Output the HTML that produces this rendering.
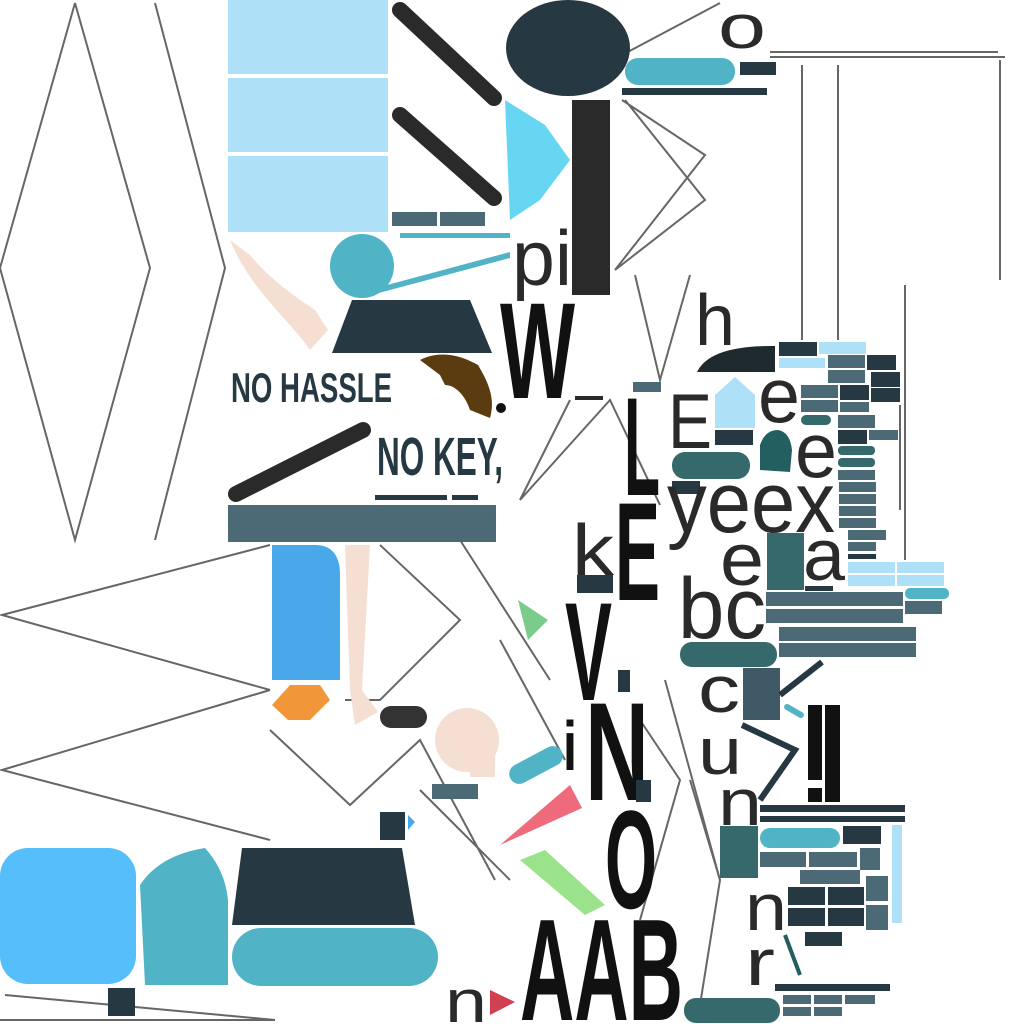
<!DOCTYPE html>
<html><head><meta charset="utf-8"><style>
html,body{margin:0;padding:0;background:#fff;width:1024px;height:1024px;overflow:hidden}
svg{display:block}
text{font-family:"Liberation Sans",sans-serif;fill:#2a2a2a}
.n{font-weight:bold;fill:#111}
</style></head><body>
<svg width="1024" height="1024" viewBox="0 0 1024 1024">
<g stroke="#666" stroke-width="2" fill="none">
<polyline points="75,3 0,268 75,540 150,268 75,3"/>
<polyline points="155,3 225,268 155,540"/>
<polyline points="2,615 270,545 2,615 270,690"/>
<polyline points="2,770 270,690 2,770 270,840"/>
<polyline points="5,995 275,1020"/><line x1="0" y1="1020" x2="275" y2="1020"/>
<polyline points="720,3 622,55"/><polyline points="622,100 705,155 615,270 705,200 625,100"/>
<line x1="770" y1="52" x2="998" y2="52"/><line x1="770" y1="57" x2="1005" y2="57"/>
<line x1="802" y1="65" x2="802" y2="340"/><line x1="838" y1="65" x2="838" y2="340"/><line x1="1000" y1="60" x2="1000" y2="280"/>
<line x1="905" y1="285" x2="905" y2="560"/><line x1="900" y1="405" x2="900" y2="510"/>
<polyline points="635,275 660,380 690,275"/><polyline points="570,400 520,500 610,400 660,505"/>
<polyline points="380,545 460,620 380,700 345,700"/><polyline points="460,540 550,680"/>
<polyline points="270,730 350,805 420,740 495,880"/><polyline points="500,640 565,760"/>
<polyline points="665,680 720,880 700,1005"/><polyline points="690,780 720,880"/>
<polyline points="640,720 680,780 640,920"/><line x1="510" y1="880" x2="420" y2="790"/>
</g>
<g fill="#aee0f8">
<rect x="228" y="0" width="160" height="74"/><rect x="228" y="78" width="160" height="74"/><rect x="228" y="156" width="160" height="76"/>
</g>
<rect x="392" y="212" width="45" height="14" fill="#4b6a75"/><rect x="440" y="212" width="45" height="14" fill="#4b6a75"/>
<g stroke="#2a2a2a" stroke-width="16" stroke-linecap="round">
<line x1="400" y1="10" x2="494" y2="98"/><line x1="400" y1="115" x2="494" y2="198"/><line x1="236" y1="494" x2="363" y2="430"/>
</g>
<ellipse cx="568" cy="48" rx="62" ry="48" fill="#263841"/>
<rect x="572" y="100" width="38" height="195" fill="#2a2a2a"/>
<polygon points="505,100 545,125 570,160 540,200 510,220" fill="#66d6f2"/>
<rect x="625" y="58" width="110" height="27" rx="13" fill="#50b4c6"/>
<rect x="740" y="62" width="36" height="13" fill="#263841"/><rect x="622" y="88" width="145" height="7" fill="#263841"/>
<text x="718" y="48" font-size="62" textLength="48" lengthAdjust="spacingAndGlyphs">o</text>
<text x="512" y="285" font-size="78" textLength="60" lengthAdjust="spacingAndGlyphs">pi</text>
<path d="M230,240 C250,290 290,320 310,350 L328,330 L315,310 C300,300 270,280 250,255 Z" fill="#f5dfd3"/>
<circle cx="362" cy="266" r="32" fill="#50b4c6"/>
<polygon points="350,295 510,252 510,258 360,298" fill="#50b4c6"/><rect x="400" y="233" width="110" height="5" fill="#50b4c6"/>
<polygon points="352,300 470,300 492,353 332,353" fill="#263841"/>
<text x="500" y="398" font-size="137" class="n" textLength="75" lengthAdjust="spacingAndGlyphs">W</text>
<circle cx="501" cy="408" r="5" fill="#111"/>
<rect x="575" y="396" width="28" height="4" fill="#2a2a2a"/>
<path d="M420,360 C440,350 460,355 478,365 C490,385 495,400 490,418 L470,410 C465,395 455,385 445,385 L440,375 Z" fill="#5a3c10"/>
<text x="231" y="402" font-size="42" font-weight="bold" style="fill:#263841" textLength="161" lengthAdjust="spacingAndGlyphs">NO HASSLE</text>
<text x="377" y="475" font-size="54" font-weight="bold" style="fill:#263841" textLength="126" lengthAdjust="spacingAndGlyphs">NO KEY,</text>
<rect x="375" y="495" width="72" height="5" fill="#263841"/><rect x="452" y="495" width="26" height="5" fill="#263841"/>
<rect x="228" y="505" width="268" height="37" fill="#4b6a75"/>
<path d="M272,545 L315,545 Q340,545 340,575 L340,680 L272,680 Z" fill="#48a8ea"/>
<path d="M345,545 L370,545 L362,690 L378,712 L355,725 L350,690 Z" fill="#f5dfd3"/>
<polygon points="272,705 290,685 320,685 330,700 310,720 288,720" fill="#f29739"/>
<rect x="380" y="706" width="47" height="22" rx="11" fill="#333"/>
<circle cx="467" cy="740" r="32" fill="#f5dfd3"/><rect x="470" y="755" width="25" height="22" fill="#f5dfd3"/>
<rect x="432" y="784" width="46" height="15" fill="#4b6a75"/>
<rect x="507" y="755" width="58" height="20" rx="10" fill="#50b4c6" transform="rotate(-28 536 765)"/>
<polygon points="518,600 548,620 528,640" fill="#7acc8a"/>
<polygon points="500,845 570,785 582,808" fill="#ef6a7a"/>
<polygon points="520,860 545,850 605,905 585,915" fill="#9be38a"/>
<rect x="380" y="812" width="25" height="28" fill="#263841"/><polygon points="408,815 415,822 408,830" fill="#48a8ea"/>
<rect x="0" y="848" width="136" height="136" rx="28" fill="#56befa"/>
<path d="M140,885 Q160,855 205,848 Q225,870 228,900 L228,985 L145,985 Z" fill="#50b4c6"/>
<rect x="108" y="988" width="27" height="28" fill="#263841"/>
<polygon points="242,848 402,848 415,925 232,925" fill="#263841"/>
<rect x="232" y="928" width="206" height="58" rx="29" fill="#50b4c6"/>
<g>
<text x="624" y="495" font-size="140" class="n" textLength="36" lengthAdjust="spacingAndGlyphs">L</text>
<text x="615" y="600" font-size="140" class="n" textLength="45" lengthAdjust="spacingAndGlyphs">E</text>
<text x="565" y="700" font-size="140" class="n" textLength="47" lengthAdjust="spacingAndGlyphs">V</text>
<text x="585" y="800" font-size="140" class="n" textLength="64" lengthAdjust="spacingAndGlyphs">N</text>
<text x="563" y="770" font-size="70" class="n" textLength="14" lengthAdjust="spacingAndGlyphs">i</text>
<text x="605" y="908" font-size="140" class="n" textLength="52" lengthAdjust="spacingAndGlyphs">O</text>
<text x="520" y="1020" font-size="145" class="n" textLength="163" lengthAdjust="spacingAndGlyphs">AAB</text>
</g>
<text x="445" y="1022" font-size="60" textLength="42" lengthAdjust="spacingAndGlyphs">n</text><polygon points="490,990 515,1002 490,1015" fill="#d04050"/>
<text x="572" y="575" font-size="72" textLength="42" lengthAdjust="spacingAndGlyphs">k</text><rect x="577" y="575" width="36" height="18" fill="#263841"/>
<rect x="618" y="670" width="12" height="22" fill="#263841"/><rect x="636" y="780" width="15" height="22" fill="#263841"/>
<text x="695" y="345" font-size="72" textLength="40" lengthAdjust="spacingAndGlyphs">h</text>
<path d="M697,372 Q710,345 775,346 L775,372 Z" fill="#1e2a2e"/>
<rect x="633" y="382" width="28" height="10" fill="#4b6a75"/>
<text x="668" y="448" font-size="78" textLength="44" lengthAdjust="spacingAndGlyphs">E</text>
<polygon points="715,395 735,377 755,395 755,428 715,428" fill="#aee0f8"/><rect x="715" y="430" width="38" height="15" fill="#263841"/>
<text x="758" y="422" font-size="78" textLength="42" lengthAdjust="spacingAndGlyphs">e</text>
<path d="M760,470 L760,445 Q765,430 778,430 Q790,432 792,450 L790,472 Z" fill="#235e60"/>
<text x="795" y="477" font-size="78" textLength="42" lengthAdjust="spacingAndGlyphs">e</text>
<rect x="672" y="452" width="78" height="27" rx="13" fill="#35696b"/>
<rect x="672" y="481" width="28" height="13" fill="#263841"/>
<text x="667" y="532" font-size="86" textLength="168" lengthAdjust="spacingAndGlyphs">yeex</text>
<text x="720" y="585" font-size="74" textLength="44" lengthAdjust="spacingAndGlyphs">e</text>
<rect x="767" y="533" width="37" height="57" fill="#35696b"/>
<text x="803" y="580" font-size="72" textLength="42" lengthAdjust="spacingAndGlyphs">a</text>
<text x="678" y="638" font-size="86" textLength="88" lengthAdjust="spacingAndGlyphs">bc</text>
<rect x="680" y="642" width="97" height="25" rx="12" fill="#35696b"/>
<text x="698" y="712" font-size="66" textLength="42" lengthAdjust="spacingAndGlyphs">c</text><rect x="743" y="668" width="37" height="52" fill="#3f5a66"/>
<line x1="780" y1="695" x2="822" y2="662" stroke="#263841" stroke-width="6"/>
<rect x="783" y="708" width="22" height="6" rx="3" fill="#50b4c6" transform="rotate(30 794 711)"/>
<text x="698" y="774" font-size="66" textLength="44" lengthAdjust="spacingAndGlyphs">u</text>
<polyline points="742,725 795,750 760,800" stroke="#263841" stroke-width="6" fill="none"/>
<text x="718" y="825" font-size="66" textLength="44" lengthAdjust="spacingAndGlyphs">n</text>
<rect x="808" y="705" width="14" height="75" fill="#111"/><rect x="808" y="788" width="14" height="14" fill="#111"/><rect x="825" y="705" width="15" height="97" fill="#111"/>
<rect x="760" y="805" width="145" height="7" fill="#263841"/><rect x="760" y="816" width="145" height="6" fill="#263841"/>
<rect x="720" y="826" width="38" height="52" fill="#35696b"/>
<rect x="760" y="828" width="80" height="20" rx="10" fill="#50b4c6"/>
<rect x="843" y="826" width="38" height="18" fill="#263841"/>
<rect x="760" y="852" width="46" height="15" fill="#4b6a75"/><rect x="809" y="852" width="48" height="15" fill="#4b6a75"/><rect x="860" y="848" width="20" height="22" fill="#4b6a75"/>
<rect x="892" y="825" width="10" height="98" fill="#aee0f8"/>
<text x="745" y="930" font-size="66" textLength="42" lengthAdjust="spacingAndGlyphs">n</text><text x="745" y="985" font-size="66" textLength="30" lengthAdjust="spacingAndGlyphs">r</text>
<line x1="785" y1="935" x2="800" y2="975" stroke="#235e60" stroke-width="4"/>
<rect x="800" y="870" width="60" height="14" fill="#4b6a75"/>
<rect x="788" y="887" width="37" height="18" fill="#263841"/><rect x="828" y="887" width="36" height="18" fill="#263841"/><rect x="866" y="876" width="22" height="25" fill="#4b6a75"/>
<rect x="788" y="908" width="37" height="18" fill="#263841"/><rect x="828" y="908" width="36" height="18" fill="#263841"/><rect x="866" y="905" width="22" height="25" fill="#4b6a75"/>
<rect x="805" y="932" width="37" height="14" fill="#263841"/>
<rect x="775" y="984" width="115" height="7" fill="#263841"/>
<rect x="684" y="998" width="96" height="25" rx="12" fill="#35696b"/>
<rect x="783" y="995" width="28" height="9" fill="#4b6a75"/><rect x="814" y="995" width="28" height="9" fill="#4b6a75"/><rect x="845" y="995" width="30" height="9" fill="#4b6a75"/>
<rect x="783" y="1007" width="28" height="9" fill="#4b6a75"/><rect x="814" y="1007" width="28" height="9" fill="#4b6a75"/>
<g>
<rect x="779" y="342" width="38" height="14" fill="#263841"/><rect x="819" y="342" width="47" height="12" fill="#aee0f8"/>
<rect x="779" y="358" width="46" height="10" fill="#aee0f8"/><rect x="828" y="355" width="37" height="13" fill="#4b6a75"/><rect x="867" y="355" width="29" height="15" fill="#263841"/>
<rect x="828" y="370" width="37" height="13" fill="#4b6a75"/><rect x="871" y="372" width="29" height="15" fill="#263841"/>
<rect x="801" y="385" width="37" height="13" fill="#4b6a75"/><rect x="840" y="385" width="29" height="15" fill="#263841"/><rect x="871" y="388" width="29" height="14" fill="#263841"/>
<rect x="801" y="400" width="37" height="12" fill="#4b6a75"/><rect x="840" y="402" width="29" height="10" fill="#4b6a75"/>
<rect x="801" y="415" width="30" height="10" rx="5" fill="#35696b"/><rect x="838" y="415" width="37" height="13" fill="#4b6a75"/>
<rect x="838" y="430" width="29" height="14" fill="#263841"/><rect x="869" y="430" width="29" height="10" fill="#4b6a75"/>
<rect x="838" y="446" width="37" height="9" rx="4" fill="#35696b"/><rect x="838" y="458" width="37" height="9" rx="4" fill="#35696b"/>
<rect x="838" y="470" width="37" height="10" fill="#4b6a75"/><rect x="839" y="482" width="37" height="10" fill="#4b6a75"/><rect x="839" y="494" width="37" height="10" fill="#4b6a75"/>
<rect x="839" y="506" width="37" height="10" fill="#4b6a75"/><rect x="839" y="518" width="37" height="10" fill="#4b6a75"/>
<rect x="848" y="530" width="38" height="10" fill="#4b6a75"/><rect x="848" y="542" width="28" height="9" fill="#4b6a75"/><rect x="848" y="554" width="28" height="5" fill="#263841"/>
<rect x="848" y="562" width="47" height="11" fill="#aee0f8"/><rect x="897" y="562" width="47" height="11" fill="#aee0f8"/>
<rect x="848" y="575" width="47" height="11" fill="#aee0f8"/><rect x="897" y="575" width="47" height="11" fill="#aee0f8"/>
<rect x="805" y="586" width="28" height="5" fill="#263841"/>
<rect x="766" y="592" width="137" height="14" fill="#4b6a75"/><rect x="766" y="609" width="137" height="14" fill="#4b6a75"/>
<rect x="905" y="588" width="44" height="11" rx="5" fill="#50b4c6"/><rect x="905" y="601" width="37" height="13" fill="#4b6a75"/>
<rect x="779" y="627" width="137" height="14" fill="#4b6a75"/><rect x="779" y="643" width="137" height="14" fill="#4b6a75"/>
</g>
</svg>
</body></html>
